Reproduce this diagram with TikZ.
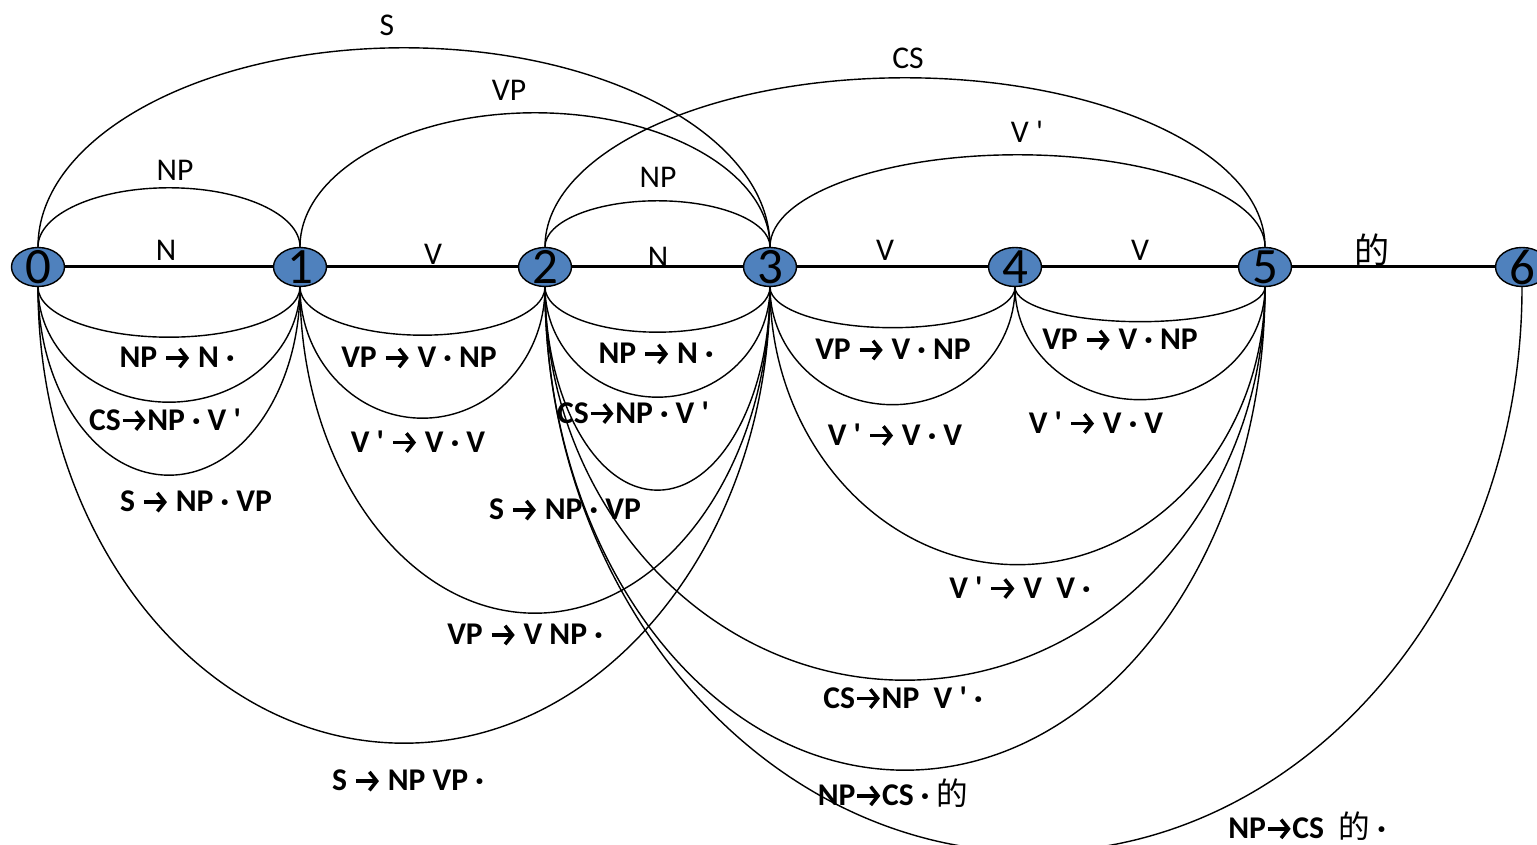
\documentclass[tikz,border=0pt]{standalone}
\usepackage{fontspec}
\setmainfont{Carlito}
\newfontfamily\cjkfont{Noto Sans CJK SC}
\usetikzlibrary{calc,shapes.geometric,arrows.meta}
\definecolor{nodeblue}{RGB}{79,129,189}
\newcommand{\rarr}{\tikz[baseline=-0.62ex]\draw[line width=2pt,
  -{Straight Barb[length=4.2pt,width=10.5pt,line width=2pt]}] (0,0) -- (0.46,0);}
\newcommand{\dechar}{{\cjkfont\mdseries 的}}
\newcommand{\prm}{\textquotesingle}
\newcommand{\numtxt}[1]{\smash{\raisebox{-.5\height}{#1}}}

\begin{document}
\begin{tikzpicture}[
    num/.style={ellipse, draw, line width=0.8pt, fill=nodeblue, minimum width=1.06cm,
      minimum height=0.78cm, inner sep=0pt, font=\fontsize{29}{29}\selectfont},
    cat/.style={font=\fontsize{18}{18}\selectfont},
    rul/.style={font=\fontsize{18}{18}\selectfont\bfseries},
    arcline/.style={line width=0.8pt},
    edgeline/.style={line width=1.7pt}]
  \useasboundingbox (0,0) rectangle (30.74,16.9);

  % chart positions 0..6
  \foreach \i/\x in {0/0.76, 1/6.0, 2/10.9, 3/15.4, 4/20.3, 5/25.3, 6/30.44}
    \node[num] (n\i) at (\x,11.56) {\numtxt{\i}};

  % words
  \foreach \a/\b in {0/1, 1/2, 2/3, 3/4, 4/5, 5/6}
    \draw[edgeline] (n\a) -- (n\b);

  % complete edges (above)
  \foreach \a/\b/\r in {0/1/1.18, 0/3/3.98, 1/3/2.68, 2/3/0.92, 2/5/3.38, 3/5/1.84}
    \draw[arcline] let \p1=(n\a.north), \p2=(n\b.north) in
      (\p1) arc[start angle=180, end angle=0, x radius={(\x2-\x1)/2}, y radius=\r cm];

  % dotted rules (below)
  \foreach \a/\b/\r in {0/1/1.0, 0/1/2.3, 0/1/3.76, 0/3/9.12,
                        1/2/0.96, 1/2/2.62, 1/3/6.52,
                        2/3/0.9, 2/3/2.2, 2/3/4.06, 2/5/7.86, 2/5/9.66, 2/6/11.3,
                        3/4/0.81, 3/4/2.35, 3/5/5.55,
                        4/5/0.69, 4/5/2.25}
    \draw[arcline] let \p1=(n\a.south), \p2=(n\b.south) in
      (\p1) arc[start angle=180, end angle=360, x radius={(\x2-\x1)/2}, y radius=\r cm];

  % categories
  \node[cat] (cS) at (7.74,16.4) {S};
  \node[cat] (cVP) at (10.18,15.1) {VP};
  \node[cat] (cNPa) at (3.5,13.5) {NP};
  \node[cat] (cNPb) at (13.16,13.36) {NP};
  \node[cat] (cCS) at (18.16,15.74) {CS};
  \node[cat] (cVb) at (20.54,14.26) {V \prm};
  \node[cat] (wN1) at (3.32,11.9) {N};
  \node[cat] (wV2) at (8.66,11.82) {V};
  \node[cat] (wN3) at (13.16,11.76) {N};
  \node[cat] (wV4) at (17.7,11.9) {V};
  \node[cat] (wV5) at (22.8,11.9) {V};
  \node[cat] (wDe) at (27.44,11.9) {\fontsize{20}{20}\selectfont\dechar};

  % rules
  \node[rul] (r01a) at (3.54,9.74) {NP \rarr{} N ·};
  \node[rul] (r01b) at (3.3,8.5) {CS\rarr{}NP · V \prm};
  \node[rul] (r01c) at (3.92,6.86) {S \rarr{} NP · VP};
  \node[rul] (r03) at (8.16,1.28) {S \rarr{} NP VP ·};
  \node[rul] (r12a) at (8.38,9.74) {VP \rarr{} V · NP};
  \node[rul] (r12b) at (8.36,8.06) {V \prm{} \rarr{} V · V};
  \node[rul] (r13) at (10.5,4.2) {VP \rarr{} V NP ·};
  \node[rul] (r23a) at (13.12,9.82) {NP \rarr{} N ·};
  \node[rul] (r23b) at (12.66,8.64) {CS\rarr{}NP · V \prm};
  \node[rul] (r23c) at (11.3,6.7) {S \rarr{} NP · VP};
  \node[rul] (r25a) at (18.06,2.94) {CS\rarr{}NP\ \ V \prm{} ·};
  \node[rul] (r25b) at (17.86,1.04) {NP\rarr{}CS · \dechar};
  \node[rul] (r26) at (26.14,0.38) {NP\rarr{}CS\ \ \dechar{} ·};
  \node[rul] (r34a) at (17.86,9.9) {VP \rarr{} V · NP};
  \node[rul] (r34b) at (17.9,8.2) {V \prm{} \rarr{} V · V};
  \node[rul] (r35) at (20.4,5.14) {V \prm{} \rarr{} V\ \ V ·};
  \node[rul] (r45a) at (22.4,10.1) {VP \rarr{} V · NP};
  \node[rul] (r45b) at (21.92,8.44) {V \prm{} \rarr{} V · V};
\end{tikzpicture}
\end{document}
